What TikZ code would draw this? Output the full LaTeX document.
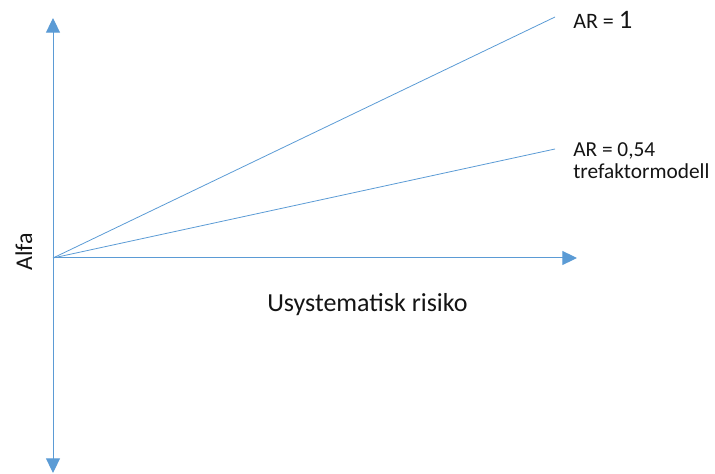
\documentclass[tikz,border=0pt]{standalone}
\usepackage{fontspec}
\setmainfont{Carlito}
\usepackage{tikz}
\usetikzlibrary{arrows.meta,positioning,calc}
\definecolor{lineblue}{RGB}{91,155,213}
\definecolor{textgrey}{RGB}{20,20,20}

\begin{document}
\begin{tikzpicture}[x=0.75pt,y=-0.75pt,
    axis/.style={lineblue, line width=0.75pt, -{Triangle[width=10.5pt,length=11pt]}},
    ray/.style={lineblue, line width=0.6pt},
    lbl/.style={textgrey, inner sep=0pt, font=\fontsize{16pt}{19pt}\selectfont},
    biglbl/.style={lbl, font=\fontsize{19.5pt}{23pt}\selectfont}]
        \useasboundingbox (0,0) rectangle (715,474);
        \coordinate (O) at (53,258);
        \coordinate (ytop) at (53,18);
        \coordinate (ybot) at (53,473);
        \coordinate (xend) at (577,258);
        \coordinate (r1) at (555,17);
        \coordinate (r2) at (555,149);
        \draw[axis] (O) -- (ytop);
        \draw[axis] (O) -- (ybot);
        \draw[axis] (O) -- (xend);
        \draw[ray] (O) -- (r1);
        \draw[ray] (O) -- (r2);
        \node[lbl, anchor=base west, font=\fontsize{16.5pt}{19pt}\selectfont] (ar1) at (573,28.5) {AR = {\fontsize{20pt}{22pt}\selectfont 1}};
        \node[lbl, anchor=base west] (ar2) at (573,157) {AR = 0,54};
        \node[lbl, anchor=base west] (tre) at (573,178.5) {trefaktormodell};
        \node[biglbl, anchor=base west] (xlab) at (267,312) {Usystematisk risiko};
        \node[lbl, anchor=base, rotate=90, font=\fontsize{18pt}{21pt}\selectfont] (ylab) at (32,252) {Alfa};
    \end{tikzpicture}
\end{document}
